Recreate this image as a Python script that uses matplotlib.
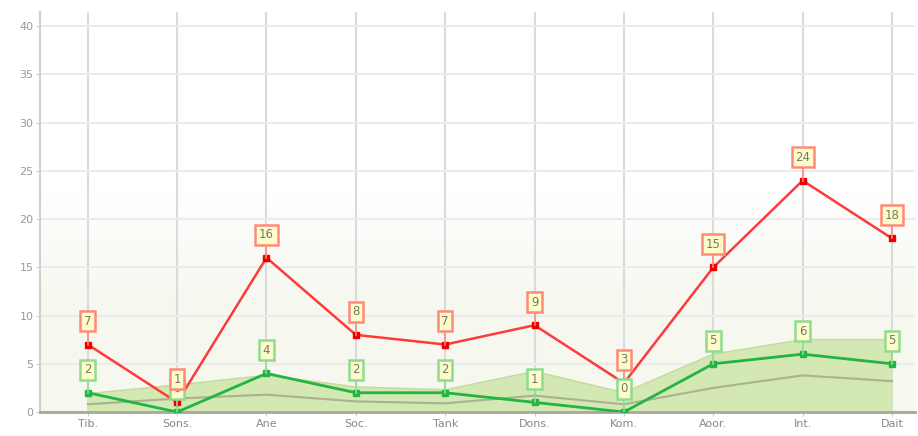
import numpy as np
import matplotlib
matplotlib.use('Agg')
import matplotlib.pyplot as plt

CATEGORIES = ["Tib.", "Sons.", "Ane", "Soc.", "Tank", "Dons.", "Kom.", "Aoor.", "Int.", "Dait"]
RED_VALUES = [7, 1, 16, 8, 7, 9, 3, 15, 24, 18]
GREEN_VALUES = [2, 0, 4, 2, 2, 1, 0, 5, 6, 5]
AREA_UPPER = [1.9, 2.8, 3.8, 2.6, 2.3, 4.2, 2.0, 6.0, 7.5, 7.5]
AREA_MID = [0.8, 1.4, 1.8, 1.1, 0.9, 1.7, 0.8, 2.5, 3.8, 3.2]
Y_TICKS = [0, 5, 10, 15, 20, 25, 30, 35, 40]

fig = plt.figure(figsize=(9.18, 4.36), dpi=100)
ax = fig.add_axes([0.044, 0.055, 0.953, 0.918])
x = np.arange(len(CATEGORIES))
ax.set_xlim(-0.53, 9.26)
ax.set_ylim(0, 41.5)

# soft background tint towards the bottom (row 0 = top)
grad = np.linspace(0, 1, 256).reshape(-1, 1)
tint = np.clip((grad - 0.45) / 0.25, 0, 1)[:, :, None]
bg = np.ones((256, 1, 3)) * (1 - tint) + np.array([0.965, 0.975, 0.945]) * tint
ax.imshow(bg, extent=(-0.53, 9.26, 0, 41.5), aspect='auto', zorder=0)

for xi in x:
    ax.axvline(xi, color='#dadada', lw=1.5, zorder=1)
for yt in Y_TICKS:
    ax.axhline(yt, color='#ebebeb', lw=1.5, zorder=1)

ax.fill_between(x, 0, AREA_UPPER, color='#d3e8b0', alpha=0.95, zorder=2, lw=0)
ax.plot(x, AREA_UPPER, color='#c4dc9e', lw=1.2, zorder=2)
ax.plot(x, AREA_MID, color='#a8b48e', lw=1.5, zorder=3)

ax.plot(x, GREEN_VALUES, color='#22b444', lw=2, marker='s', ms=4, zorder=5)
ax.plot(x, RED_VALUES, color='#ff3a3a', lw=1.8, marker='s', ms=4,
        mfc='#ee0000', mec='#ee0000', zorder=6)

def label_points(vals, edge):
    for xi, v in zip(x, vals):
        ax.plot([xi, xi], [v, v + 1.6], color=edge, lw=1.2, zorder=6)
        ax.text(xi, v + 2.4, str(v), ha='center', va='center', fontsize=8.5,
                color='#777766', zorder=7,
                bbox=dict(boxstyle='square,pad=0.3', fc='#fffccc', ec=edge, lw=1.8))

label_points(GREEN_VALUES, '#8fdc8f')
label_points(RED_VALUES, '#ff8a7a')

ax.set_xticks(x)
ax.set_xticklabels(CATEGORIES, fontsize=8, color='#888888')
ax.set_yticks(Y_TICKS)
ax.set_yticklabels([str(t) for t in Y_TICKS], fontsize=8, color='#999999')
ax.tick_params(length=3, color='#cccccc', pad=2)
for s in ['top', 'right']:
    ax.spines[s].set_visible(False)
ax.spines['left'].set_color('#d0d0d0')
ax.spines['left'].set_linewidth(1.5)
ax.spines['bottom'].set_color('#a8a898')
ax.spines['bottom'].set_linewidth(2)

fig.savefig('out.png', dpi=100)
